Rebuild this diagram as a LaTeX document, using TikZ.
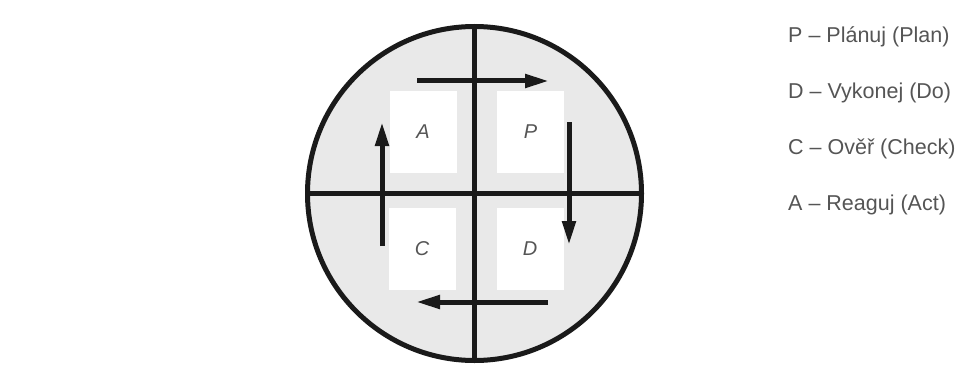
\documentclass[tikz,border=0pt]{standalone}
\usepackage{fontspec}
\setmainfont{Liberation Sans}
\usetikzlibrary{arrows.meta}
\definecolor{disk}{HTML}{E9E9E9}
\definecolor{ink}{HTML}{1A1A1A}
\definecolor{txt}{HTML}{555555}
\tikzset{
  wheel/.style={draw=ink, line width=5pt, fill=disk},
  crossline/.style={draw=ink, line width=4.5pt},
  quad/.style={fill=white, draw=none, minimum width=67pt, minimum height=82pt, inner sep=0pt},
  letter/.style={font=\fontsize{20}{20}\selectfont\itshape, text=txt},
  flow/.style={draw=ink, line width=5pt, -{Triangle[length=24pt,width=13pt]}},
  legend/.style={font=\fontsize{21.5}{21.5}\selectfont, text=txt, anchor=west, inner sep=0pt}
}
\begin{document}
\begin{tikzpicture}[x=1pt,y=-1pt]
\useasboundingbox (0,0) rectangle (965,385);
\fill[white] (0,0) rectangle (965,385);
\node[wheel, circle, minimum size=334pt, inner sep=0pt] (wheel) at (474.5,193.5) {};
\node[quad] (qa) at (423,132) {};
\node[quad] (qp) at (530.5,132) {};
\node[quad] (qc) at (422,248.5) {};
\node[quad] (qd) at (530,248.5) {};
\draw[crossline] (wheel.north) -- (wheel.south);
\draw[crossline] (wheel.west) -- (wheel.east);
\node[letter] (la) at (qa) {A};
\node[letter] (lp) at (qp) {P};
\node[letter] (lc) at (qc) {C};
\node[letter] (ld) at (qd) {D};
\coordinate (t1) at (417,81); \coordinate (t2) at (549,81);
\coordinate (r1) at (569,122); \coordinate (r2) at (569,245);
\coordinate (b1) at (548,302); \coordinate (b2) at (416,302);
\coordinate (l1) at (382,246); \coordinate (l2) at (382,122);
\draw[flow] (t1) -- (t2);
\draw[flow] (r1) -- (r2);
\draw[flow] (b1) -- (b2);
\draw[flow] (l1) -- (l2);
\node[legend] (lgp) at (788,37) {P – Plánuj (Plan)};
\node[legend] (lgd) at (788,93) {D – Vykonej (Do)};
\node[legend] (lgc) at (788,149) {C – Ověř (Check)};
\node[legend] (lga) at (788,205) {A – Reaguj (Act)};
\end{tikzpicture}
\end{document}
